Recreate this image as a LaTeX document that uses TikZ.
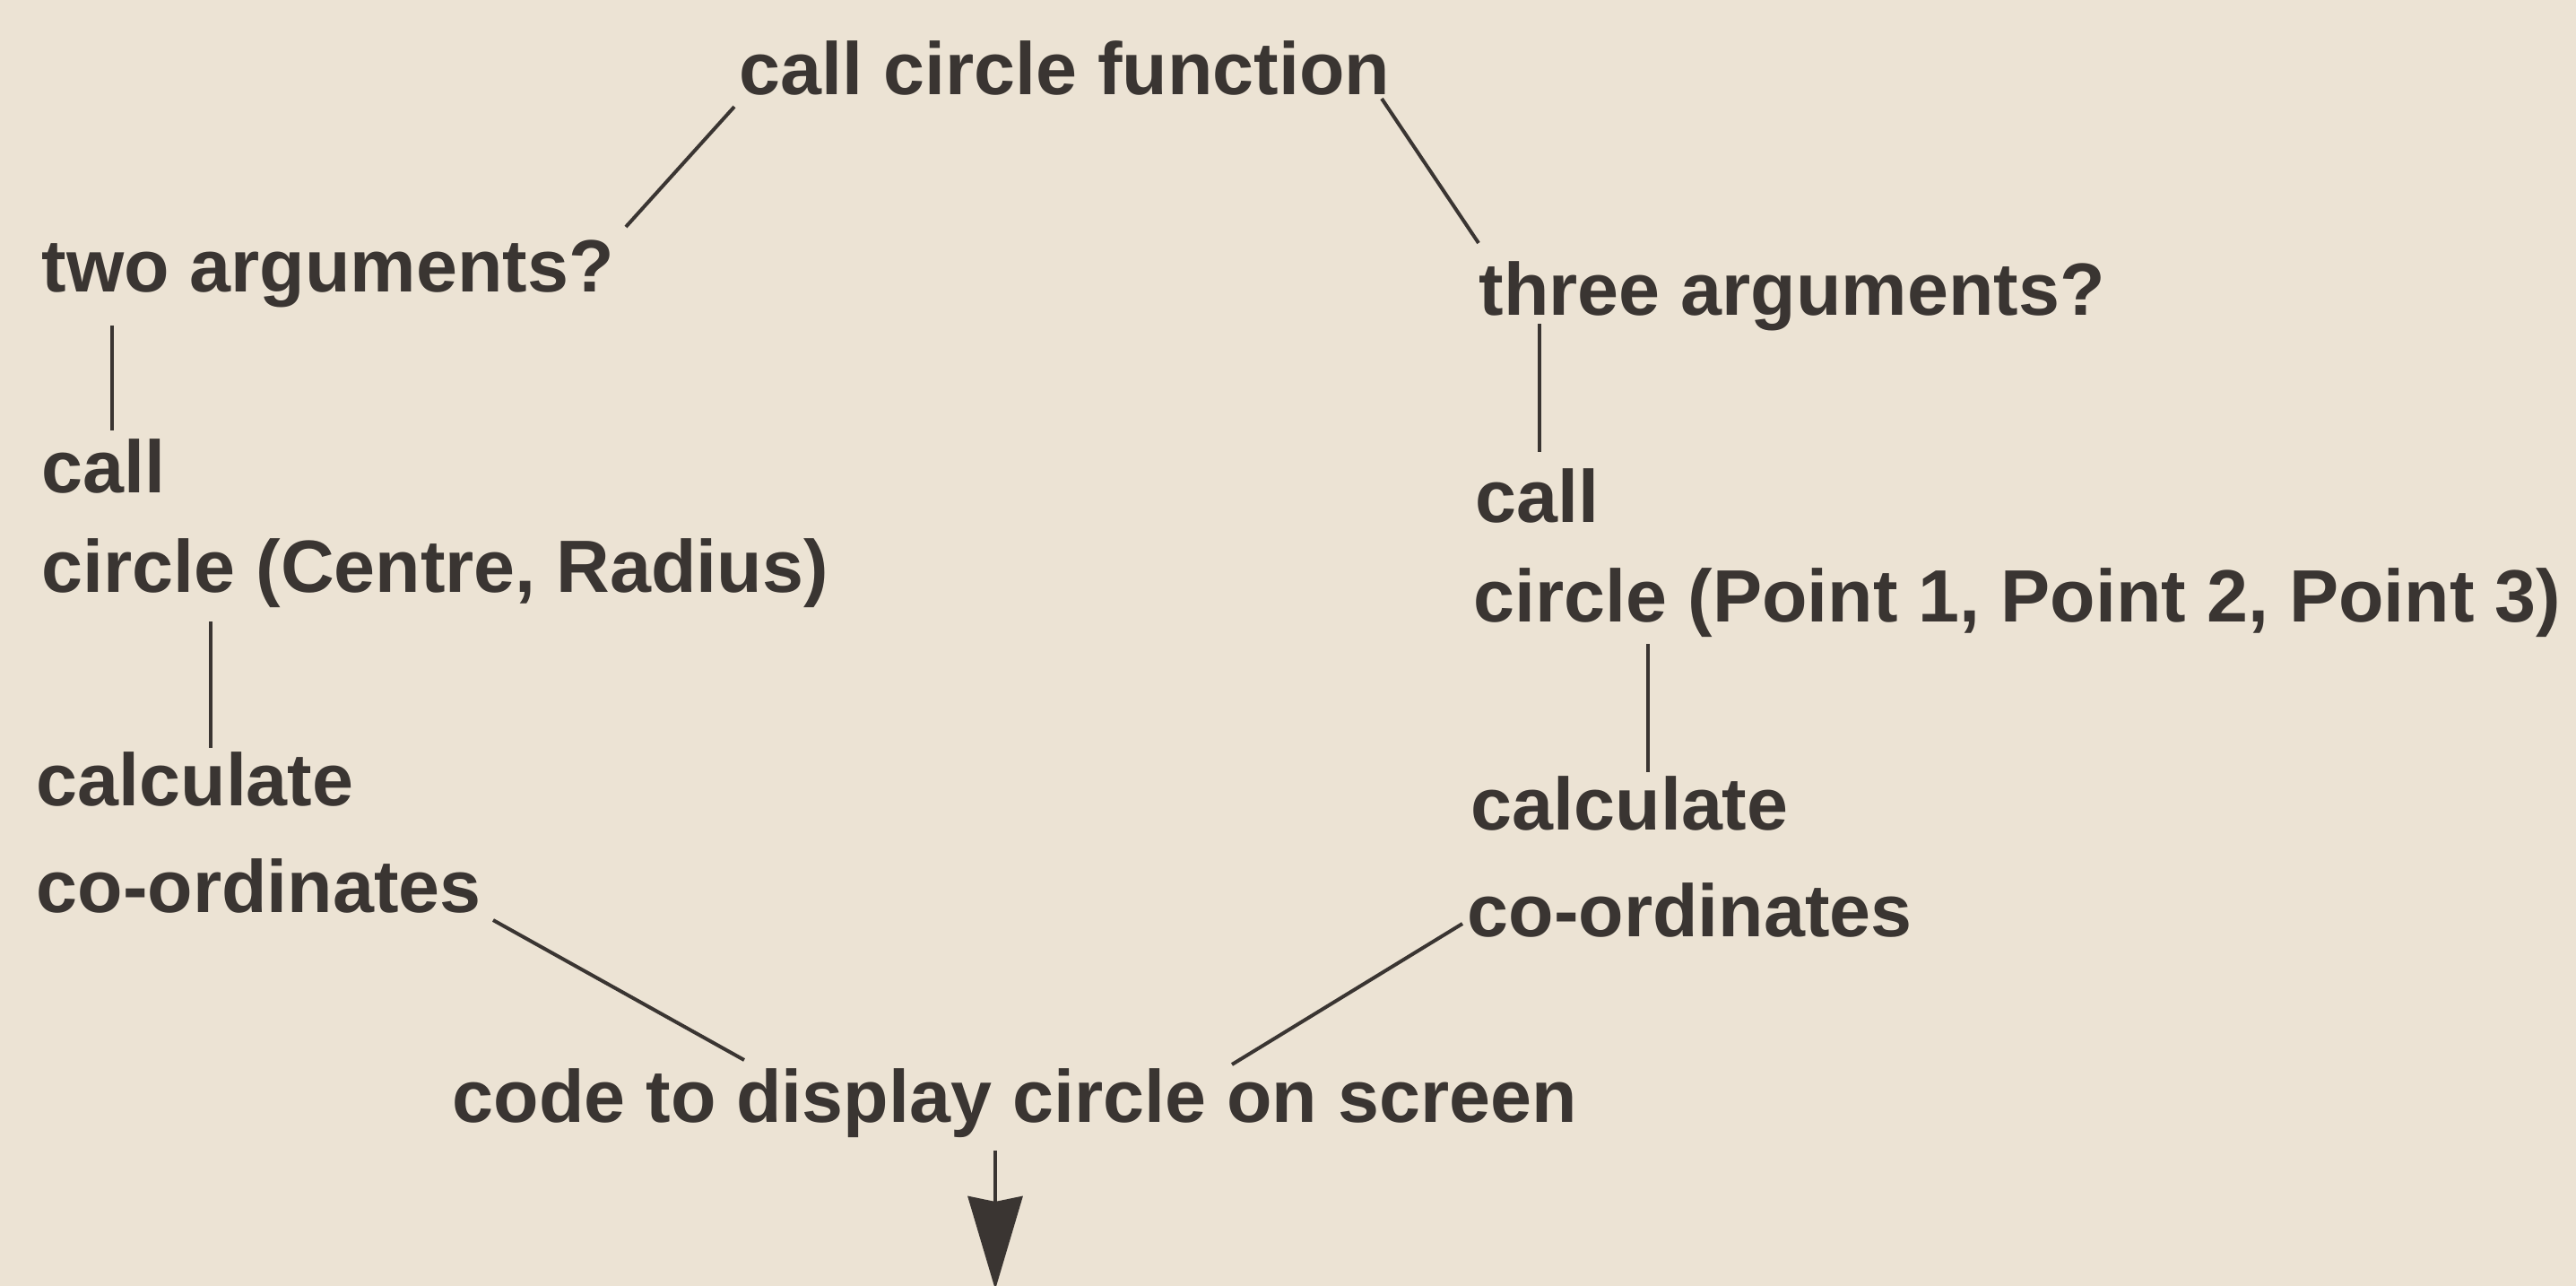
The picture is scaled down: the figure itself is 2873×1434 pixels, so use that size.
\documentclass[tikz,border=0pt]{standalone}
\usepackage{fontspec}
\setmainfont{Liberation Sans}
\usetikzlibrary{arrows.meta}
\definecolor{paper}{RGB}{236,227,212}
\definecolor{ink}{RGB}{58,53,50}
\tikzset{
  lbl/.style={anchor=base west, inner sep=0pt, text=ink, font=\fontsize{23.5pt}{28pt}\selectfont\bfseries},
  conn/.style={draw=ink, line width=0.04cm},
}
\begin{document}
\begin{tikzpicture}[x=0.01cm,y=-0.01cm]
\fill[paper] (0,0) rectangle (2873,1434);
\useasboundingbox (0,0) rectangle (2873,1434);

\node[lbl] (cf)    at (824,106)  {call circle function};
\node[lbl] (two)   at (46,326)   {two arguments?};
\node[lbl] (three) at (1649,352) {three arguments?};
\node[lbl] (callL) at (46,550)   {call};
\node[lbl] (circL) at (46,660)   {circle (Centre, Radius)};
\node[lbl] (calcL) at (40,898)   {calculate};
\node[lbl] (coL)   at (40,1017)  {co-ordinates};
\node[lbl] (callR) at (1645,583) {call};
\node[lbl] (circR) at (1643,693) {circle (Point 1, Point 2, Point 3)};
\node[lbl] (calcR) at (1640,925) {calculate};
\node[lbl] (coR)   at (1636,1044){co-ordinates};
\node[lbl] (code)  at (504,1251) {code to display circle on screen};
\coordinate (out) at (1110,1438);

\draw[conn] ([shift={(-5,13)}]cf.base west) -- ([shift={(652,-73)}]two.base west);
\draw[conn] ([shift={(717,4)}]cf.base west) -- ([shift={(0,-81)}]three.base west);
\draw[conn] ([shift={(79,37)}]two.base west) -- ([shift={(79,-70)}]callL.base west);
\draw[conn] ([shift={(68,9)}]three.base west) -- ([shift={(72,-79)}]callR.base west);
\draw[conn] ([shift={(189,33)}]circL.base west) -- ([shift={(195,-64)}]calcL.base west);
\draw[conn] ([shift={(195,25)}]circR.base west) -- ([shift={(198,-64)}]calcR.base west);
\draw[conn] ([shift={(510,9)}]coL.base west) -- ([shift={(326,-69)}]code.base west);
\draw[conn] ([shift={(-5,-14)}]coR.base west) -- ([shift={(870,-64)}]code.base west);
\draw[conn, -{Stealth[width=0.61cm,length=1.04cm,inset=0.06cm]}] ([shift={(606,32)}]code.base west) -- (out);
\end{tikzpicture}
\end{document}
